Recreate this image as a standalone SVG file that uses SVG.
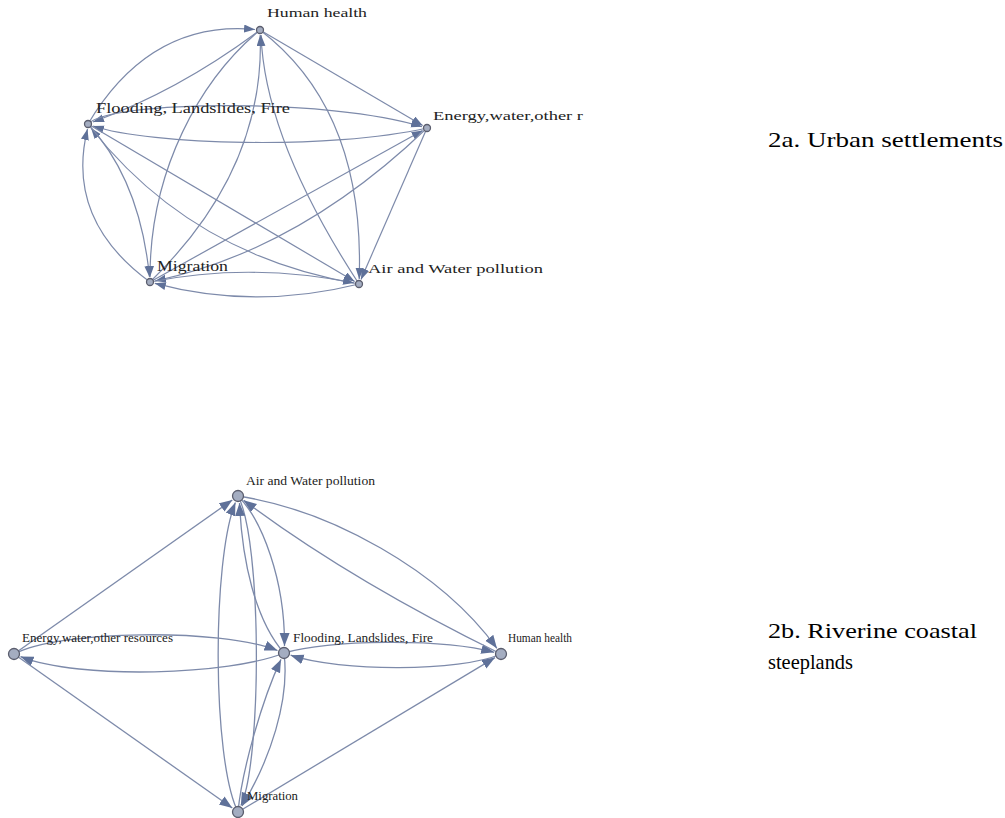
<svg xmlns="http://www.w3.org/2000/svg" width="1005" height="818" viewBox="0 0 1005 818">
<defs>
<marker id="ah" markerUnits="userSpaceOnUse" markerWidth="12" markerHeight="10" refX="11" refY="4" orient="auto">
<path d="M0,0 L11,4 L0,8 Z" fill="#5f7199"/>
</marker>
<marker id="ahb" markerUnits="userSpaceOnUse" markerWidth="14" markerHeight="12" refX="13" refY="5" orient="auto">
<path d="M0,0 L13,5 L0,10 Z" fill="#5f7199"/>
</marker>
<style>
.e{fill:none;stroke:#7d8aaa;stroke-width:1.2;marker-end:url(#ah)}
.eb{fill:none;stroke:#7d8aaa;stroke-width:1.3;marker-end:url(#ahb)}
.n{fill:#a4adc1;stroke:#5b5e6e;stroke-width:1.3}
.l{font-family:"Liberation Serif","Times New Roman",serif;fill:#222}
.s{font-size:14px}
.t{font-size:12px}
.cap{font-family:"Liberation Serif","Times New Roman",serif;font-size:22px;fill:#000}
</style>
</defs>
<rect width="1005" height="818" fill="#fff"/>

<g id="edges-2a">
<path class="e" d="M88,124 Q150,20 255,29.5"/>
<path class="e" d="M260,30 Q180,90 93,122"/>
<path class="e" d="M260,30 L422.7,125.5"/>
<path class="e" d="M88,124 C110,100 330,98 422,126.7"/>
<path class="e" d="M427,128 C330,150 150,145 93,126"/>
<path class="e" d="M260,30 C200,80 150,170 150,277"/>
<path class="e" d="M150,282 Q265,170 260.2,35"/>
<path class="e" d="M359,284 Q265,140 261,35"/>
<path class="e" d="M260,30 Q365,110 359.2,279"/>
<path class="e" d="M150,282 L422.6,130.4"/>
<path class="e" d="M427,128 Q300,250 155,281"/>
<path class="e" d="M88,124 L354.7,281.5"/>
<path class="e" d="M359,284 Q192,256 91,128"/>
<path class="e" d="M150,282 Q65,220 87.5,129"/>
<path class="e" d="M88,124 Q140,180 149.5,277"/>
<path class="e" d="M150,282 Q250,262 354,283"/>
<path class="e" d="M359,284 Q255,310 154.8,283.3"/>
<path class="e" d="M427,128 L361,279.4"/>
</g>

<g id="edges-2b">
<path class="eb" d="M14,654 L232.3,500"/>
<path class="eb" d="M14,654 C60,630 220,628 277.5,650.5"/>
<path class="eb" d="M284,653 C230,675 80,680 20.5,656.6"/>
<path class="eb" d="M14,654 L232.3,808"/>
<path class="eb" d="M238,812 C212,760 212,560 235.4,502.5"/>
<path class="eb" d="M238,496 C262,540 262,760 240.9,805.6"/>
<path class="eb" d="M284,653 C255,620 242,560 239.5,503"/>
<path class="eb" d="M238,496 C262,520 285,580 284.5,646"/>
<path class="eb" d="M284,653 C290,700 270,760 242,806"/>
<path class="eb" d="M238,812 C242,770 262,700 281,659.4"/>
<path class="eb" d="M284,653 C330,640 440,638 494.2,652.3"/>
<path class="eb" d="M501,654 C460,672 340,672 290.6,655.2"/>
<path class="eb" d="M238,496 C330,510 440,570 496.9,648.3"/>
<path class="eb" d="M501,654 Q350,580 243.6,500.2"/>
<path class="eb" d="M238,812 L495,657.6"/>
</g>

<g id="n2a-human">
<circle class="n" cx="260" cy="30" r="3.5"/>
<text class="l t" x="267" y="17" textLength="100" lengthAdjust="spacingAndGlyphs">Human health</text>
</g>
<g id="n2a-flooding">
<circle class="n" cx="88" cy="124" r="3.5"/>
<text class="l s" x="96" y="113" textLength="194" lengthAdjust="spacingAndGlyphs">Flooding, Landslides, Fire</text>
</g>
<g id="n2a-energy">
<circle class="n" cx="427" cy="128" r="3.5"/>
<text class="l t" x="433" y="120" textLength="150" lengthAdjust="spacingAndGlyphs">Energy,water,other r</text>
</g>
<g id="n2a-migration">
<circle class="n" cx="150" cy="282" r="3.5"/>
<text class="l s" x="157" y="271" textLength="71" lengthAdjust="spacingAndGlyphs">Migration</text>
</g>
<g id="n2a-air">
<circle class="n" cx="359" cy="284" r="3.5"/>
<text class="l t" x="368" y="273" textLength="175" lengthAdjust="spacingAndGlyphs">Air and Water pollution</text>
</g>

<g id="n2b-air">
<circle class="n" cx="238" cy="496" r="5.5"/>
<text class="l t" x="246" y="485" textLength="129" lengthAdjust="spacingAndGlyphs">Air and Water pollution</text>
</g>
<g id="n2b-energy">
<circle class="n" cx="14" cy="654" r="5.5"/>
<text class="l t" x="22" y="642" textLength="151" lengthAdjust="spacingAndGlyphs">Energy,water,other resources</text>
</g>
<g id="n2b-flooding">
<circle class="n" cx="284" cy="653" r="5.5"/>
<text class="l t" x="293" y="642" textLength="140" lengthAdjust="spacingAndGlyphs">Flooding, Landslides, Fire</text>
</g>
<g id="n2b-human">
<circle class="n" cx="501" cy="654" r="5.5"/>
<text class="l t" x="508" y="642" textLength="64" lengthAdjust="spacingAndGlyphs">Human health</text>
</g>
<g id="n2b-migration">
<circle class="n" cx="238" cy="812" r="5.5"/>
<text class="l t" x="247" y="800" textLength="51" lengthAdjust="spacingAndGlyphs">Migration</text>
</g>

<g id="captions">
<text class="cap" x="768" y="147" textLength="235" lengthAdjust="spacingAndGlyphs">2a. Urban settlements</text>
<text class="cap" x="768" y="638" textLength="209" lengthAdjust="spacingAndGlyphs">2b. Riverine coastal</text>
<text class="cap" x="768" y="669" textLength="85" lengthAdjust="spacingAndGlyphs">steeplands</text>
</g>
</svg>
